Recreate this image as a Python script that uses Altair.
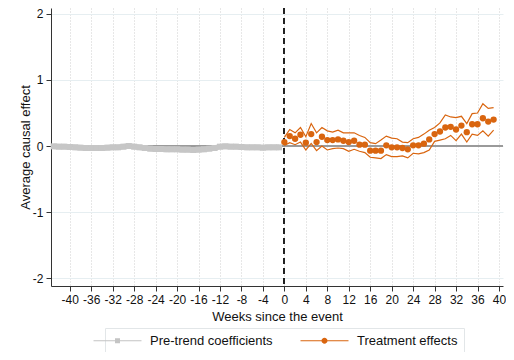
import altair as alt
import pandas as pd

# ---- data ----
pre_weeks = list(range(-43, 0))
pre_est = [-0.005, -0.01, -0.01, -0.015, -0.02, -0.025, -0.03, -0.03, -0.03, -0.03,
           -0.025, -0.02, -0.02, -0.01, 0.0, -0.01, -0.02, -0.03, -0.04, -0.045,
           -0.045, -0.05, -0.05, -0.05, -0.055, -0.055, -0.06, -0.055, -0.05, -0.04,
           -0.03, -0.01, -0.005, -0.01, -0.01, -0.015, -0.02, -0.02, -0.02, -0.025,
           -0.02, -0.02, -0.02]
pre_hi = [0.03, 0.025, 0.025, 0.02, 0.015, 0.01, 0.005, 0.005, 0.005, 0.005,
          0.01, 0.015, 0.015, 0.025, 0.035, 0.025, 0.015, 0.005, -0.005, -0.01,
          -0.01, -0.015, -0.015, -0.015, -0.02, -0.02, -0.025, -0.02, -0.015, -0.005,
          0.005, 0.025, 0.03, 0.025, 0.025, 0.02, 0.015, 0.015, 0.015, 0.01,
          0.015, 0.015, 0.015]
pre_lo = [-0.04, -0.045, -0.045, -0.05, -0.055, -0.06, -0.065, -0.065, -0.065, -0.065,
          -0.06, -0.055, -0.055, -0.045, -0.035, -0.045, -0.055, -0.065, -0.075, -0.08,
          -0.08, -0.085, -0.085, -0.085, -0.09, -0.09, -0.095, -0.09, -0.085, -0.075,
          -0.065, -0.045, -0.04, -0.045, -0.045, -0.05, -0.055, -0.055, -0.055, -0.06,
          -0.055, -0.055, -0.055]

post_weeks = list(range(0, 40))
post_est = [0.06, 0.15, 0.11, 0.17, 0.05, 0.18, 0.06, 0.14, 0.09, 0.09,
            0.10, 0.08, 0.06, 0.08, 0.02, 0.02, -0.07, -0.07, -0.07, 0.01,
            -0.02, -0.02, -0.03, -0.05, 0.01, 0.01, 0.035, 0.10, 0.18, 0.22,
            0.28, 0.29, 0.25, 0.31, 0.21, 0.33, 0.33, 0.42, 0.37, 0.40]
post_hi = [0.13, 0.25, 0.20, 0.28, 0.14, 0.34, 0.20, 0.28, 0.23, 0.21,
           0.24, 0.20, 0.20, 0.20, 0.16, 0.13, 0.05, 0.035, 0.09, 0.15,
           0.12, 0.11, 0.06, 0.05, 0.11, 0.13, 0.18, 0.24, 0.28, 0.35,
           0.47, 0.44, 0.43, 0.45, 0.34, 0.49, 0.50, 0.64, 0.57, 0.58]
post_lo = [0.01, 0.05, 0.02, 0.06, -0.06, 0.04, -0.07, 0.0, -0.06, -0.04,
           -0.03, -0.04, -0.08, -0.05, -0.08, -0.10, -0.17, -0.18, -0.19, -0.13,
           -0.16, -0.16, -0.15, -0.18, -0.11, -0.12, -0.10, -0.06, 0.07, 0.09,
           0.11, 0.16, 0.08, 0.18, 0.06, 0.18, 0.16, 0.23, 0.15, 0.24]

series_names = ["Pre-trend coefficients", "Treatment effects"]
x_ticks = list(range(-40, 41, 4))
y_ticks = [-2, -1, 0, 1, 2]

GREY = "#c6c6c6"
ORANGE = "#d9650f"
FONT = "Liberation Sans"

pre = pd.DataFrame({"week": pre_weeks, "est": pre_est, "hi": pre_hi, "lo": pre_lo,
                    "series": series_names[0]})
post = pd.DataFrame({"week": post_weeks, "est": post_est, "hi": post_hi, "lo": post_lo,
                     "series": series_names[1]})

xs = alt.Scale(domain=[-43.5, 40.75], nice=False, zero=False)
ys = alt.Scale(domain=[-2.12, 2.09], nice=False, zero=False)

xax = alt.Axis(values=x_ticks, title="Weeks since the event", labelExpr="'' + datum.value",
               labelOverlap=False, labelFlush=False,
               grid=True, gridDash=[1, 2], gridColor="#cfcfcf", gridWidth=1,
               tickSize=5, labelPadding=3, titlePadding=5)
yax = alt.Axis(values=y_ticks, title="Average causal effect", labelExpr="'' + datum.value",
               labelOverlap=False, labelFlush=False,
               grid=True, gridColor="#e6eef1", gridWidth=1,
               tickSize=5, labelPadding=3, titlePadding=0)


def X(field):
    return alt.X(field, type="quantitative", scale=xs, axis=xax)


def Y(field):
    return alt.Y(field, type="quantitative", scale=ys, axis=yax)


base_pre = alt.Chart(pre)
base_post = alt.Chart(post)

zero_rule = base_post.mark_rule(color="#9a9a9a", strokeWidth=1.5).encode(
    y=alt.YDatum(0, scale=ys, axis=yax, type="quantitative"))
event_rule = base_post.mark_rule(color="#222222", strokeWidth=1, strokeDash=[6, 4]).encode(
    x=alt.XDatum(0, scale=xs, axis=xax, type="quantitative"))

pre_hi_l = base_pre.mark_line(color=GREY, strokeWidth=1).encode(x=X("week"), y=Y("hi"))
pre_lo_l = base_pre.mark_line(color=GREY, strokeWidth=1).encode(x=X("week"), y=Y("lo"))
pre_pts = base_pre.mark_point(shape="square", filled=True, color=GREY, size=36,
                              opacity=1).encode(x=X("week"), y=Y("est"))

post_hi_l = base_post.mark_line(color=ORANGE, strokeWidth=1.2).encode(x=X("week"), y=Y("hi"))
post_lo_l = base_post.mark_line(color=ORANGE, strokeWidth=1.2).encode(x=X("week"), y=Y("lo"))
post_pts = base_post.mark_point(shape="circle", filled=True, color=ORANGE, size=40,
                                opacity=1).encode(x=X("week"), y=Y("est"))

# legend glyphs: symbolSize 100 -> 5 px per path unit
line_part = "M-4.8,-0.12H4.8V0.12H-4.8Z"
sq_sym = line_part + "M-0.5,-0.5H0.5V0.5H-0.5Z"
ci_sym = line_part + "M-0.6,0A0.6,0.6 0 1,1 0.6,0A0.6,0.6 0 1,1 -0.6,0Z"

legend_layer = base_post.transform_filter("false").mark_point(filled=True, opacity=1).encode(
    x=X("week"), y=Y("est"),
    color=alt.Color("series:N", scale=alt.Scale(domain=series_names, range=["#c4c4c4", ORANGE]),
                    legend=alt.Legend(title=None, orient="none", legendX=54, legendY=320,
                                      direction="horizontal", symbolSize=100,
                                      labelFontSize=13, labelFont=FONT, labelColor="#111",
                                      labelOffset=26, columnPadding=27, padding=6,
                                      strokeColor="#e2e6e8", fillColor="white",
                                      symbolStrokeWidth=0)),
    shape=alt.Shape("series:N", scale=alt.Scale(domain=series_names, range=[sq_sym, ci_sym])),
)

chart = alt.layer(
    zero_rule, event_rule,
    pre_hi_l, pre_lo_l, pre_pts,
    post_hi_l, post_lo_l, post_pts,
    legend_layer,
).properties(
    width=452, height=278,
    autosize=alt.AutoSizeParams(type="none"),
    padding={"left": 43, "top": 0, "right": 3, "bottom": 66},
).configure_view(stroke=None).configure_axis(
    labelFont=FONT, titleFont=FONT, labelFontSize=12, titleFontSize=13,
    labelColor="#111", titleColor="#111", titleFontWeight="normal",
    domainColor="#333", tickColor="#333", domainWidth=1, tickWidth=1,
)

chart.save("out.html", embed_options={"renderer": "svg", "actions": False})
